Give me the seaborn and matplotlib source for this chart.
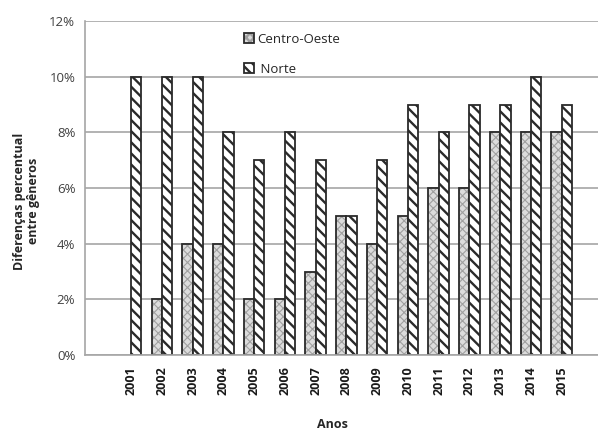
import matplotlib
matplotlib.use("Agg")
import matplotlib.pyplot as plt
import seaborn as sns
import pandas as pd
import numpy as np
from matplotlib.ticker import FixedLocator, PercentFormatter

# dados
anos = ["2001", "2002", "2003", "2004", "2005", "2006", "2007", "2008",
        "2009", "2010", "2011", "2012", "2013", "2014", "2015"]
centro_oeste = [0, 2, 4, 4, 2, 2, 3, 5, 4, 5, 6, 6, 8, 8, 8]
norte = [10, 10, 10, 8, 7, 8, 7, 5, 7, 9, 8, 9, 9, 10, 9]
regioes = ["Centro-Oeste", "Norte"]

df = pd.DataFrame({
    "Anos": anos * 2,
    "valor": centro_oeste + norte,
    "Região": [regioes[0]] * len(anos) + [regioes[1]] * len(anos),
})

sns.set_style("white")
plt.rcParams["font.family"] = ["Open Sans", "DejaVu Sans"]
plt.rcParams["hatch.linewidth"] = 1.7

fig = plt.figure(figsize=(5.98, 4.32), dpi=100)
ax = fig.add_axes([85 / 598, 77 / 432, 1 - 85 / 598, (355 - 21) / 432])

sns.barplot(data=df, x="Anos", y="valor", hue="Região", order=anos,
            hue_order=regioes, width=0.67, legend=False, ax=ax,
            palette=["#dcdcdc", "white"], saturation=1)

estilos = [("xxxx", "#a0a0a0"), ("\\\\\\", "#2a2a2a")]
for cont, (hatch, hcol) in zip(ax.containers, estilos):
    for p in cont:
        p.set_edgecolor("#2a2a2a")
        p.set_linewidth(1.3 if p.get_height() > 0 else 0)
        p.set_hatch(hatch)
        p._hatch_color = matplotlib.colors.to_rgba(hcol)
        if hatch == "xxxx" and hasattr(p, "set_hatch_linewidth"):
            p.set_hatch_linewidth(0.8)

ax.set_xlim(-1.5, 15.18)
ax.set_ylim(0, 12)
ax.yaxis.set_major_locator(FixedLocator([0, 2, 4, 6, 8, 10, 12]))
ax.yaxis.set_major_formatter(PercentFormatter(100, decimals=0))
ax.grid(axis="y", color="#a6a6a6", linewidth=1.2)
ax.set_axisbelow(True)

ax.xaxis.set_minor_locator(FixedLocator(np.arange(-1.5, 16, 1.0)))
ax.tick_params(axis="x", which="major", length=0, pad=8, rotation=90,
               labelsize=9, labelcolor="#1a1a1a")
ax.tick_params(axis="x", which="minor", length=5, color="#a6a6a6", width=1)
for t in ax.get_xticklabels():
    t.set_fontweight("bold")
ax.tick_params(axis="y", length=4, color="#a6a6a6", width=1.2,
               labelsize=9.5, labelcolor="#404040", pad=3)

for s in ["top", "right"]:
    ax.spines[s].set_visible(False)
for s in ["left", "bottom"]:
    ax.spines[s].set_color("#a6a6a6")
    ax.spines[s].set_linewidth(1.2)

ax.set_xlabel("Anos", fontsize=9, fontweight="bold")
ax.xaxis.set_label_coords((332 - 85) / 513, -0.19)
ax.set_ylabel("Diferenças percentual\nentre gêneros", fontsize=9,
              fontweight="bold", linespacing=1.1)
ax.yaxis.set_label_coords(-0.088, 0.46)

handles = [ax.containers[0][1], ax.containers[1][0]]
ax.legend(handles, [regioes[0], " " + regioes[1]], loc="upper left", frameon=False,
          bbox_to_anchor=(232 / 598, 1 - 21 / 432), bbox_transform=fig.transFigure,
          fontsize=9.5, handlelength=0.8, handleheight=0.8, handletextpad=0.2,
          labelspacing=1.3)

fig.savefig("out.png", dpi=100)
